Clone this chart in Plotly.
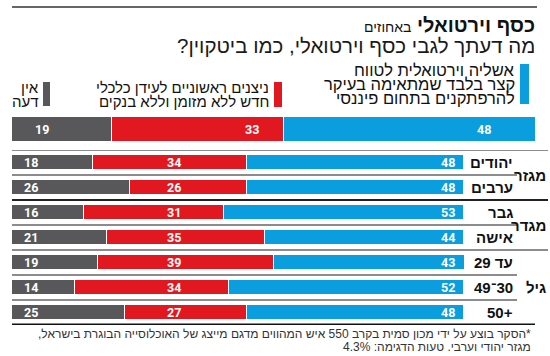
import plotly.graph_objects as go

W, H = 550, 356

# ---------------- data ----------------
categories = ["יהודים", "ערבים", "גבר", "אישה", "עד 29", "30־49", "50+"]
group_names = ["מגזר", "מגדר", "גיל"]
group_centers = [0.5, 2.5, 5.0]
total_no_opinion = [19]
total_buds = [33]
total_illusion = [48]
no_opinion = [18, 26, 16, 21, 19, 14, 25]
buds = [34, 26, 31, 35, 39, 34, 27]
illusion = [48, 48, 53, 44, 43, 52, 48]

legend_illusion = ["אשליה וירטואלית לטווח", "קצר בלבד שמתאימה בעיקר", "להרפתקנים בתחום פיננסי"]
legend_buds = ["ניצנים ראשוניים לעידן כלכלי", "חדש ללא מזומן וללא בנקים"]
legend_none = ["אין", "דעה"]
title = "כסף וירטואלי"
unit = "באחוזים"
subtitle = "מה דעתך לגבי כסף וירטואלי, כמו ביטקוין?"
footnote = ["*הסקר בוצע על ידי מכון סמית בקרב 550 איש המהווים מדגם מייצג של האוכלוסייה הבוגרת בישראל,",
            "מגזר יהודי וערבי. טעות הדגימה: 4.3%"]

# ---------------- style ----------------
GRAY = "#58585a"
RED = "#e1181f"
BLUE = "#0a9edf"
HEB = "Liberation Sans, Arial, sans-serif"
NUM = "Roboto, Open Sans, sans-serif"

MAIN_X0, MAIN_X1 = 12, 536
ROW_X0, ROW_X1 = 12, 464


def px(x):
    return x / W


def py(y):
    return 1 - y / H


def rtl(s):
    # right-to-left embedding for texts that mix Hebrew with digits / punctuation
    if any("\u0590" <= ch <= "\u05ff" for ch in s):
        return "\u202b" + s + "\u202c"
    return s


fig = go.Figure()
line_style = dict(color="white", width=1.5)
rows = list(range(len(categories)))

for vals, col in [(total_no_opinion, GRAY), (total_buds, RED), (total_illusion, BLUE)]:
    fig.add_trace(go.Bar(x=vals, y=[0], orientation="h", marker=dict(color=col, line=line_style),
                         width=1.0, xaxis="x", yaxis="y", hoverinfo="skip", showlegend=False))
for vals, col in [(no_opinion, GRAY), (buds, RED), (illusion, BLUE)]:
    fig.add_trace(go.Bar(x=vals, y=rows, orientation="h", marker=dict(color=col, line=line_style),
                         width=0.6, xaxis="x2", yaxis="y2", hoverinfo="skip", showlegend=False))


def main_x(p):
    return (p - MAIN_X0) / (MAIN_X1 - MAIN_X0) * 100


def row_x(p):
    return (p - ROW_X0) / (ROW_X1 - ROW_X0) * 100


ann = []
# value labels, main bar
main_pos = [main_x(42), main_x(252), main_x(484)]
for xp, vals in zip(main_pos, [total_no_opinion, total_buds, total_illusion]):
    ann.append(dict(x=xp, y=0, xref="x", yref="y", text=f"<b>{vals[0]}</b>", showarrow=False,
                    font=dict(family=NUM, size=12.5, color="white")))
# value labels, rows
row_pos = [row_x(31), row_x(174), row_x(448)]
for xp, vals in zip(row_pos, [no_opinion, buds, illusion]):
    for i, v in enumerate(vals):
        ann.append(dict(x=xp, y=i, xref="x2", yref="y2", text=f"<b>{v}</b>", showarrow=False,
                        font=dict(family=NUM, size=12.5, color="white")))
# row labels
for i, c in enumerate(categories):
    ann.append(dict(x=px(515), y=i, xref="paper", yref="y2", xanchor="right", text=f"<b>{rtl(c)}</b>",
                    showarrow=False, font=dict(family=HEB, size=15, color="#111")))
for g, yc in zip(group_names, group_centers):
    ann.append(dict(x=px(548), y=yc, xref="paper", yref="y2", xanchor="right", text=f"<b>{g}</b>",
                    showarrow=False, font=dict(family=HEB, size=15, color="#111")))

# title
ann.append(dict(x=px(537), y=py(25), xref="paper", yref="paper", xanchor="right", yanchor="middle",
                text=f"<b>{title}</b> <span style='font-size:14px'>{unit}</span>",
                showarrow=False, font=dict(family=HEB, size=20, color="#111")))
ann.append(dict(x=px(537), y=py(46), xref="paper", yref="paper", xanchor="right", yanchor="middle",
                text=rtl(subtitle), showarrow=False, font=dict(family=HEB, size=20.5, color="#1a1a1a")))

# legend texts
for k, t in enumerate(legend_illusion):
    ann.append(dict(x=px(517), y=py(70 + 14 * k), xref="paper", yref="paper", xanchor="right",
                    yanchor="middle", text=t, showarrow=False, font=dict(family=HEB, size=16.5, color="#111")))
for k, t in enumerate(legend_buds):
    ann.append(dict(x=px(271), y=py(87 + 14 * k), xref="paper", yref="paper", xanchor="right",
                    yanchor="middle", text=t, showarrow=False, font=dict(family=HEB, size=15, color="#111")))
for k, t in enumerate(legend_none):
    ann.append(dict(x=px(41), y=py(87 + 14 * k), xref="paper", yref="paper", xanchor="right",
                    yanchor="middle", text=t, showarrow=False, font=dict(family=HEB, size=15, color="#111")))

# footnote
for k, t in enumerate(footnote):
    ann.append(dict(x=px(533), y=py(334 + 13 * k), xref="paper", yref="paper", xanchor="right",
                    yanchor="middle", text=rtl(t), showarrow=False, font=dict(family=HEB, size=12, color="#333")))

shapes = []
# legend swatches
for (x0, x1, y0, y1, col) in [(520, 529, 64, 104, BLUE), (274, 282, 82, 107, RED), (43, 50, 82, 106, GRAY)]:
    shapes.append(dict(type="rect", xref="paper", yref="paper", x0=px(x0), x1=px(x1), y0=py(y1), y1=py(y0),
                       fillcolor=col, line=dict(width=0)))
# top rule
shapes.append(dict(type="line", xref="paper", yref="paper", x0=px(12), x1=px(537), y0=py(7), y1=py(7),
                   line=dict(color="#333", width=1.5)))
# separators
seps = [(-0.5, 548, "#8c8c8c", 2), (0.5, 517, "#8c8c8c", 2), (1.5, 548, "#222", 2), (2.5, 517, "#8c8c8c", 2),
        (3.5, 548, "#8c8c8c", 2), (4.5, 517, "#8c8c8c", 2), (5.5, 517, "#8c8c8c", 2), (6.5, 535, "#111", 3)]
for yy, xe, col, w in seps:
    shapes.append(dict(type="line", xref="paper", yref="y2", x0=px(12), x1=px(xe), y0=yy, y1=yy,
                       line=dict(color=col, width=w)))

fig.update_layout(
    width=W, height=H, margin=dict(l=0, r=0, t=0, b=0),
    paper_bgcolor="white", plot_bgcolor="white", barmode="stack", bargap=0,
    xaxis=dict(domain=[px(MAIN_X0), px(MAIN_X1)], range=[0, 100], visible=False, fixedrange=True),
    yaxis=dict(domain=[py(142), py(117)], range=[-0.5, 0.5], visible=False, fixedrange=True),
    xaxis2=dict(domain=[px(ROW_X0), px(ROW_X1)], range=[0, 100], visible=False, fixedrange=True, anchor="y2"),
    yaxis2=dict(domain=[py(325), py(150)], range=[6.5, -0.5], visible=False, fixedrange=True, anchor="x2"),
    annotations=ann, shapes=shapes, showlegend=False,
)
fig.write_html("out.html", config={"displayModeBar": False},
               post_script="document.body.style.margin='0';")
